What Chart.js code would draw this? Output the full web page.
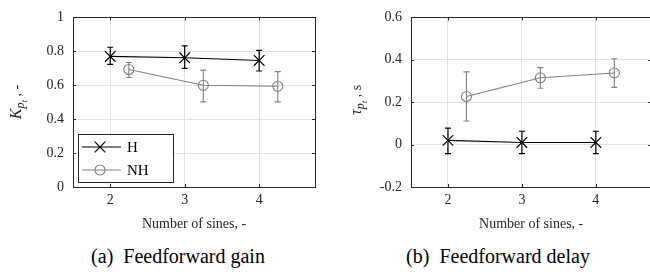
<!DOCTYPE html>
<html>
<head>
<meta charset="utf-8">
<script src="https://cdn.jsdelivr.net/npm/chart.js@4.4.1/dist/chart.umd.min.js"></script>
<style>
  html, body { margin: 0; padding: 0; background: #fff; overflow: hidden; width: 650px; height: 280px; }
  .panel { position: absolute; top: 0; height: 240px; }
  .caption { position: absolute; top: 245px; font-family: "Liberation Serif", "Times New Roman", Times, "DejaVu Serif", serif; font-size: 20px; color: #000; white-space: pre; transform: translateX(-50%); }
</style>
</head>
<body>
<div class="panel" style="left:0;width:325px"><canvas id="graphique-gain"></canvas></div>
<div class="panel" style="left:325px;width:335px"><canvas id="graphique-delay"></canvas></div>
<div class="caption" style="left:178px">(a)  Feedforward gain</div>
<div class="caption" style="left:498px">(b)  Feedforward delay</div>
<script>
// Données
const sinesH = [2, 3, 4];
const sinesNH = [2.25, 3.25, 4.25];
const xTicks = [2, 3, 4];
const gainTicks = [0, 0.2, 0.4, 0.6, 0.8, 1];
const delayTicks = [-0.2, 0, 0.2, 0.4, 0.6];
const seriesLabels = ["H", "NH"];

const gainH = [0.770, 0.762, 0.746];
const gainHLow = [0.723, 0.699, 0.684];
const gainHHigh = [0.824, 0.832, 0.805];
const gainNH = [0.693, 0.600, 0.594];
const gainNHLow = [0.646, 0.502, 0.502];
const gainNHHigh = [0.734, 0.689, 0.680];

const delayH = [0.020, 0.010, 0.010];
const delayHLow = [-0.043, -0.043, -0.043];
const delayHHigh = [0.078, 0.063, 0.063];
const delayNH = [0.227, 0.315, 0.338];
const delayNHLow = [0.111, 0.266, 0.270];
const delayNHHigh = [0.343, 0.363, 0.405];

const SERIF = '"Liberation Serif", "Times New Roman", Times, "DejaVu Serif", serif';
const AXIS_COLOR = "#262626";
const GRID_COLOR = "#e2e2e2";
const GREY = "#808080";

function points(xs, ys) {
    return xs.map((x, i) => ({ x: x, y: ys[i] }));
}

// Barres d'erreur verticales
const errorBarsPlugin = {
    id: "errorBars",
    beforeDatasetsDraw(chart) {
        const ctx = chart.ctx;
        const xScale = chart.scales.x;
        const yScale = chart.scales.y;
        chart.data.datasets.forEach(ds => {
            if (!ds.errLow) return;
            ctx.save();
            ctx.strokeStyle = ds.borderColor;
            ctx.lineWidth = ds.borderWidth;
            ds.data.forEach((p, i) => {
                const px = xScale.getPixelForValue(p.x);
                const y1 = yScale.getPixelForValue(ds.errLow[i]);
                const y2 = yScale.getPixelForValue(ds.errHigh[i]);
                ctx.beginPath();
                ctx.moveTo(px, y1); ctx.lineTo(px, y2);
                ctx.moveTo(px - 3, y1); ctx.lineTo(px + 3, y1);
                ctx.moveTo(px - 3, y2); ctx.lineTo(px + 3, y2);
                ctx.stroke();
            });
            ctx.restore();
        });
    }
};

// Cadre et petites graduations intérieures (style MATLAB)
const framePlugin = {
    id: "frame",
    beforeDatasetsDraw(chart) {
        const ctx = chart.ctx;
        const a = chart.chartArea;
        ctx.save();
        ctx.strokeStyle = AXIS_COLOR;
        ctx.lineWidth = 1;
        ctx.strokeRect(Math.round(a.left) + 0.5, Math.round(a.top) + 0.5,
            Math.round(a.right - a.left), Math.round(a.bottom - a.top));
        ctx.beginPath();
        chart.scales.x.ticks.forEach(t => {
            const px = Math.round(chart.scales.x.getPixelForValue(t.value)) + 0.5;
            ctx.moveTo(px, a.bottom); ctx.lineTo(px, a.bottom - 3);
            ctx.moveTo(px, a.top); ctx.lineTo(px, a.top + 3);
        });
        chart.scales.y.ticks.forEach(t => {
            const py = Math.round(chart.scales.y.getPixelForValue(t.value)) + 0.5;
            ctx.moveTo(a.left, py); ctx.lineTo(a.left + 3, py);
            ctx.moveTo(a.right, py); ctx.lineTo(a.right - 3, py);
        });
        ctx.stroke();
        ctx.restore();
    }
};

// Titre de l'axe Y avec indices
const yLabelPlugin = {
    id: "yLabel",
    afterDraw(chart, args, opts) {
        if (!opts.parts) return;
        const ctx = chart.ctx;
        ctx.save();
        ctx.translate(opts.x, opts.y);
        ctx.rotate(-Math.PI / 2);
        ctx.fillStyle = AXIS_COLOR;
        ctx.textBaseline = "alphabetic";
        let total = 0;
        opts.parts.forEach(p => { ctx.font = p.font; total += ctx.measureText(p.text).width; });
        let x = -total / 2;
        opts.parts.forEach(p => {
            ctx.font = p.font;
            ctx.fillText(p.text, x, p.dy);
            x += ctx.measureText(p.text).width;
        });
        ctx.restore();
    }
};

// Légende encadrée à l'intérieur du graphique
const boxLegendPlugin = {
    id: "boxLegend",
    afterDraw(chart, args, opts) {
        if (!opts.display) return;
        const ctx = chart.ctx;
        const a = chart.chartArea;
        const left = a.left + 5, top = a.bottom - 53, w = 95, h = 48;
        ctx.save();
        ctx.fillStyle = "#fff";
        ctx.fillRect(left, top, w, h);
        ctx.strokeStyle = AXIS_COLOR;
        ctx.lineWidth = 1;
        ctx.strokeRect(left + 0.5, top + 0.5, w, h);
        chart.data.datasets.forEach((ds, i) => {
            const y = top + 13 + i * 23;
            ctx.strokeStyle = ds.borderColor;
            ctx.lineWidth = ds.borderWidth;
            ctx.beginPath();
            ctx.moveTo(left + 4, y); ctx.lineTo(left + 43, y);
            ctx.stroke();
            ctx.fillStyle = ds.pointBackgroundColor;
            Chart.helpers.drawPoint(ctx, {
                pointStyle: ds.pointStyle, radius: ds.pointRadius,
                rotation: 0, borderWidth: ds.borderWidth
            }, left + 22, y);
            ctx.fillStyle = "#000";
            ctx.font = "15px " + SERIF;
            ctx.textBaseline = "middle";
            ctx.fillText(ds.label, left + 49, y + 1);
        });
        ctx.restore();
    }
};

function tickText(v) {
    return String(Math.round(v * 10) / 10);
}

function makeConfig(h, hLow, hHigh, nh, nhLow, nhHigh, yMin, yMax, yTicks, axisWidth, padRight, yLabel, legend) {
    return {
        type: "line",
        data: {
            datasets: [{
                label: seriesLabels[0],
                data: points(sinesH, h),
                errLow: hLow,
                errHigh: hHigh,
                borderColor: "#000",
                borderWidth: 1.2,
                pointStyle: "crossRot",
                pointRadius: 7.5,
                pointBackgroundColor: "rgba(0,0,0,0)",
                pointBorderColor: "#000",
            }, {
                label: seriesLabels[1],
                data: points(sinesNH, nh),
                errLow: nhLow,
                errHigh: nhHigh,
                borderColor: GREY,
                borderWidth: 1.1,
                pointStyle: "circle",
                pointRadius: 5,
                pointBackgroundColor: "rgba(0,0,0,0)",
                pointBorderColor: GREY,
            }],
        },
        options: {
            responsive: true,
            maintainAspectRatio: false,
            animation: false,
            layout: { padding: { top: 17, right: padRight, left: 0, bottom: 0 } },
            plugins: {
                legend: { display: false },
                tooltip: { enabled: false },
                yLabel: yLabel,
                boxLegend: { display: legend },
            },
            scales: {
                x: {
                    type: "linear",
                    min: 1.5,
                    max: 4.75,
                    afterBuildTicks: scale => { scale.ticks = xTicks.map(v => ({ value: v })); },
                    afterFit: scale => { scale.height = 53; },
                    grid: { color: GRID_COLOR, drawTicks: false },
                    border: { display: false },
                    ticks: { padding: 5, color: AXIS_COLOR, font: { family: SERIF, size: 14 }, callback: tickText },
                    title: {
                        display: true,
                        text: "Number of sines, -",
                        color: AXIS_COLOR,
                        font: { family: SERIF, size: 14 },
                        padding: { top: 0, bottom: 7 },
                    },
                },
                y: {
                    min: yMin,
                    max: yMax,
                    afterBuildTicks: scale => { scale.ticks = yTicks.map(v => ({ value: v })); },
                    afterFit: scale => { scale.width = axisWidth; },
                    grid: { color: GRID_COLOR, drawTicks: false },
                    border: { display: false },
                    ticks: { padding: 9, color: AXIS_COLOR, font: { family: SERIF, size: 14 }, callback: tickText },
                },
            },
        },
        plugins: [framePlugin, errorBarsPlugin, yLabelPlugin, boxLegendPlugin],
    };
}

new Chart(
    document.querySelector("#graphique-gain"),
    makeConfig(gainH, gainHLow, gainHHigh, gainNH, gainNHLow, gainNHHigh, 0, 1, gainTicks, 73, 10, {
        x: 21, y: 102,
        parts: [
            { text: "K", font: "italic 16px " + SERIF, dy: 0 },
            { text: "p", font: "italic 12px " + SERIF, dy: 3 },
            { text: "t", font: "italic 9px " + SERIF, dy: 6 },
            { text: " , -", font: "14px " + SERIF, dy: 0 },
        ],
    }, true)
);

new Chart(
    document.querySelector("#graphique-delay"),
    makeConfig(delayH, delayHLow, delayHHigh, delayNH, delayNHLow, delayNHHigh, -0.2, 0.6, delayTicks, 86, 8, {
        x: 36, y: 100,
        parts: [
            { text: "τ", font: "italic 16px " + SERIF, dy: 0 },
            { text: "p", font: "italic 12px " + SERIF, dy: 3 },
            { text: "t", font: "italic 9px " + SERIF, dy: 6 },
            { text: " , s", font: "14px " + SERIF, dy: 0 },
        ],
    }, false)
);
</script>
</body>
</html>
